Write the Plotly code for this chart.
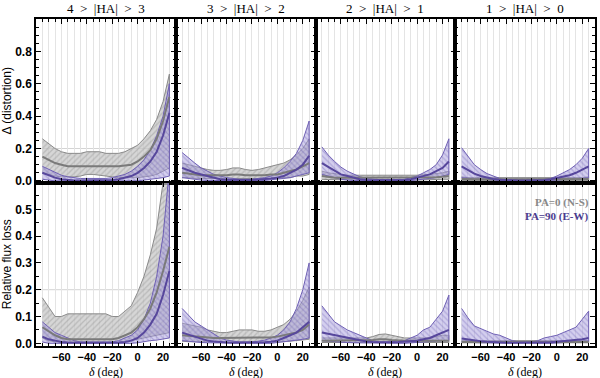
import plotly.graph_objects as go
from plotly.subplots import make_subplots

# declination bin centres (deg)
DEC = [-75, -70, -65, -60, -55, -50, -45, -40, -35, -30, -25,
       -20, -15, -10, -5, 0, 5, 10, 15, 20, 25]

HA_TITLES = ["4  >  |HA|  >  3", "3  >  |HA|  >  2", "2  >  |HA|  >  1", "1  >  |HA|  >  0"]
X_TICKS = [-60, -40, -20, 0, 20]
DIST_TICKS = [0.0, 0.2, 0.4, 0.6, 0.8]
FLUX_TICKS = [0.0, 0.1, 0.2, 0.3, 0.4, 0.5]

# ---- distortion, PA=0 (N-S) : lower / median / upper
DIST_NS_LO = [
    [.05, .04, .03, .025, .025, .025, .03, .04, .04, .035, .03, .025, .02, .02, .02, .02, .025, .03, .04, .06, .08],
    [.02, .02, .015, .015, .015, .015, .015, .015, .015, .015, .015, .015, .015, .015, .015, .015, .02, .02, .03, .03, .04],
    [.01, .008, .005, .005, .005, .005, .005, .005, .005, .005, .005, .005, .005, .005, .005, .005, .005, .006, .008, .01, .01],
    [.003, .003, .003, .003, .003, .003, .003, .003, .003, .003, .003, .003, .003, .003, .003, .003, .003, .003, .003, .003, .003],
]
DIST_NS_MID = [
    [.15, .13, .11, .10, .09, .09, .09, .09, .09, .09, .09, .09, .09, .095, .10, .12, .15, .19, .26, .37, .52],
    [.05, .045, .04, .035, .035, .035, .035, .035, .04, .04, .035, .035, .035, .035, .04, .04, .05, .06, .07, .09, .11],
    [.03, .025, .02, .02, .02, .02, .02, .02, .02, .02, .02, .02, .02, .02, .02, .02, .02, .02, .022, .025, .03],
    [.012, .01, .01, .01, .01, .01, .01, .01, .01, .01, .01, .01, .01, .01, .01, .01, .01, .01, .01, .01, .012],
]
DIST_NS_HI = [
    [.26, .23, .20, .18, .17, .17, .17, .18, .18, .18, .17, .17, .17, .18, .20, .22, .26, .31, .38, .49, .66],
    [.11, .10, .09, .08, .07, .065, .065, .07, .08, .08, .07, .065, .07, .08, .09, .10, .11, .13, .16, .20, .26],
    [.06, .05, .045, .04, .035, .035, .035, .035, .035, .035, .035, .035, .035, .035, .035, .035, .04, .04, .045, .05, .06],
    [.025, .02, .02, .02, .02, .02, .02, .02, .02, .02, .02, .02, .02, .02, .02, .02, .02, .02, .02, .02, .025],
]
# ---- distortion, PA=90 (E-W)
DIST_EW_LO = [
    [.01, .005, 0, 0, 0, 0, 0, 0, 0, 0, 0, 0, 0, 0, 0, 0, .005, .01, .015, .02, .03],
    [.02, .015, .01, .005, .003, 0, 0, 0, 0, 0, 0, 0, 0, .003, .005, .01, .015, .02, .03, .04, .05],
    [.04, .03, .02, .01, .005, .002, 0, 0, 0, 0, 0, 0, 0, 0, .002, .005, .01, .015, .02, .03, .04],
    [.02, .015, .012, .01, .008, .005, .003, .002, .001, .001, .001, .001, .001, .002, .003, .005, .008, .01, .012, .015, .02],
]
DIST_EW_MID = [
    [.05, .035, .02, .01, .005, .003, .003, .003, .003, .003, .003, .005, .01, .02, .03, .05, .08, .12, .18, .28, .42],
    [.08, .065, .05, .04, .03, .02, .01, .007, .005, .005, .005, .005, .007, .01, .015, .02, .03, .05, .07, .10, .155],
    [.11, .085, .06, .04, .03, .02, .01, .005, .004, .003, .003, .003, .004, .006, .01, .02, .03, .04, .06, .08, .12],
    [.09, .065, .045, .03, .02, .012, .007, .004, .003, .002, .002, .002, .003, .005, .01, .017, .025, .035, .05, .07, .09],
]
DIST_EW_HI = [
    [.09, .07, .05, .035, .025, .02, .015, .015, .015, .015, .015, .02, .03, .04, .06, .09, .13, .19, .28, .40, .60],
    [.175, .14, .11, .08, .06, .04, .03, .02, .015, .01, .01, .01, .015, .02, .03, .05, .08, .12, .17, .25, .37],
    [.21, .16, .12, .085, .06, .04, .025, .015, .01, .008, .008, .008, .008, .01, .02, .03, .05, .07, .10, .16, .26],
    [.205, .15, .10, .07, .045, .03, .015, .008, .004, .003, .003, .003, .004, .008, .015, .03, .05, .07, .10, .14, .20],
]

# ---- relative flux loss, PA=0 (N-S)
FLUX_NS_LO = [
    [.02, .01, .005, .003, .003, .003, .003, .003, .003, .003, .003, .003, .003, .005, .01, .015, .02, .025, .03, .035, .04],
    [.008, .006, .005, .005, .005, .005, .005, .005, .005, .005, .005, .005, .005, .005, .005, .005, .006, .008, .01, .012, .015],
    [.003, .003, .003, .003, .003, .003, .003, .003, .003, .003, .003, .003, .003, .003, .003, .003, .003, .003, .003, .003, .003],
    [.002, .002, .002, .002, .002, .002, .002, .002, .002, .002, .002, .002, .002, .002, .002, .002, .002, .002, .002, .002, .002],
]
FLUX_NS_MID = [
    [.06, .045, .03, .02, .015, .015, .015, .015, .015, .015, .015, .015, .02, .03, .04, .06, .09, .13, .19, .27, .36],
    [.03, .028, .025, .022, .02, .02, .02, .02, .02, .02, .02, .02, .02, .02, .022, .025, .03, .035, .04, .05, .07],
    [.01, .01, .01, .01, .01, .01, .01, .01, .012, .015, .015, .012, .01, .01, .01, .01, .01, .01, .01, .01, .01],
    [.005, .005, .005, .005, .005, .005, .005, .005, .005, .005, .005, .005, .005, .005, .005, .005, .005, .005, .005, .005, .005],
]
FLUX_NS_HI = [
    [.17, .135, .10, .10, .11, .11, .11, .11, .11, .11, .11, .10, .10, .12, .14, .19, .25, .33, .43, .60, .85],
    [.075, .07, .065, .06, .05, .045, .04, .04, .045, .05, .05, .05, .045, .045, .05, .06, .07, .09, .12, .16, .21],
    [.02, .02, .02, .02, .02, .02, .02, .02, .025, .033, .035, .03, .025, .02, .02, .02, .02, .02, .025, .03, .03],
    [.01, .01, .01, .01, .01, .01, .01, .01, .01, .01, .01, .01, .01, .01, .01, .01, .01, .01, .01, .01, .01],
]
# ---- relative flux loss, PA=90 (E-W)
FLUX_EW_LO = [
    [.005, 0, 0, 0, 0, 0, 0, 0, 0, 0, 0, 0, 0, 0, 0, .002, .005, .01, .012, .015, .02],
    [.01, .008, .005, .003, .002, 0, 0, 0, 0, 0, 0, 0, 0, 0, 0, .002, .005, .008, .012, .015, .02],
    [.01, .008, .006, .004, .003, .002, 0, 0, 0, 0, 0, 0, 0, 0, 0, .002, .004, .006, .008, .01, .01],
    [.005, .004, .003, .002, .001, 0, 0, 0, 0, 0, 0, 0, 0, 0, 0, 0, .002, .004, .006, .008, .008],
]
FLUX_EW_MID = [
    [.025, .015, .01, .005, .003, .002, .002, .002, .002, .002, .002, .002, .003, .005, .01, .02, .04, .07, .11, .18, .27],
    [.04, .032, .025, .018, .01, .007, .004, .003, .002, .002, .002, .002, .003, .004, .006, .01, .02, .03, .04, .06, .08],
    [.04, .035, .03, .025, .02, .015, .01, .007, .005, .004, .004, .004, .005, .006, .008, .01, .015, .02, .03, .04, .05],
    [.018, .014, .01, .008, .006, .004, .003, .002, .002, .002, .002, .002, .002, .003, .004, .006, .008, .01, .012, .015, .02],
]
FLUX_EW_HI = [
    [.08, .06, .04, .03, .02, .01, .005, .005, .005, .005, .005, .005, .01, .02, .03, .05, .09, .15, .25, .40, .65],
    [.13, .105, .08, .065, .05, .035, .02, .012, .008, .005, .005, .005, .008, .012, .02, .03, .05, .08, .13, .20, .30],
    [.14, .11, .08, .065, .05, .04, .03, .02, .01, .005, .005, .005, .01, .01, .02, .03, .05, .06, .09, .12, .18],
    [.13, .095, .065, .055, .045, .035, .03, .02, .01, .005, .005, .005, .01, .02, .025, .03, .04, .05, .06, .09, .12],
]

GRAY_LINE = "#7a7a7a"
GRAY_EDGE = "#8a8a8a"
PURP_LINE = "#57479c"
PURP_EDGE = "#6f60b4"


def add_band(fig, row, col, lo, hi, edge, bg, fg, shape):
    fig.add_trace(
        go.Scatter(
            x=DEC + DEC[::-1],
            y=hi + lo[::-1],
            mode="lines",
            fill="toself",
            fillcolor=bg,
            fillpattern={"shape": shape, "fgcolor": fg, "bgcolor": bg, "size": 4, "solidity": 0.3},
            line={"color": edge, "width": 1},
            showlegend=False,
            hoverinfo="skip",
        ),
        row=row,
        col=col,
    )


def add_line(fig, row, col, y, color):
    fig.add_trace(
        go.Scatter(x=DEC, y=y, mode="lines", line={"color": color, "width": 2},
                   showlegend=False, hoverinfo="skip"),
        row=row,
        col=col,
    )


fig = make_subplots(rows=2, cols=4, horizontal_spacing=0, vertical_spacing=0)

rows = [
    (1, DIST_NS_LO, DIST_NS_MID, DIST_NS_HI, DIST_EW_LO, DIST_EW_MID, DIST_EW_HI),
    (2, FLUX_NS_LO, FLUX_NS_MID, FLUX_NS_HI, FLUX_EW_LO, FLUX_EW_MID, FLUX_EW_HI),
]
for r, ns_lo, ns_mid, ns_hi, ew_lo, ew_mid, ew_hi in rows:
    for c in range(4):
        add_band(fig, r, c + 1, ns_lo[c], ns_hi[c], GRAY_EDGE,
                 "rgba(200,200,200,0.75)", "rgba(115,115,115,0.6)", "/")
        add_band(fig, r, c + 1, ew_lo[c], ew_hi[c], PURP_EDGE,
                 "rgba(170,160,222,0.5)", "rgba(90,75,170,0.6)", "\\")
        add_line(fig, r, c + 1, ns_mid[c], GRAY_LINE)
        add_line(fig, r, c + 1, ew_mid[c], PURP_LINE)
        # faint reference line at 0.2
        n = (r - 1) * 4 + c + 1
        fig.add_shape(type="line", x0=0, x1=1,
                      xref="x domain" if n == 1 else f"x{n} domain",
                      y0=0.2, y1=0.2, yref="y" if n == 1 else f"y{n}",
                      line={"color": "#d4d4d4", "width": 1}, layer="below")

tick_font = {"family": "Liberation Sans", "size": 12, "color": "black", "weight": "bold"}
x_tick_font = {"family": "Liberation Sans", "size": 11, "color": "black", "weight": "bold"}

fig.update_xaxes(
    range=[-80, 30], tickmode="array", tickvals=X_TICKS, ticks="inside", ticklen=5, tickwidth=1,
    tickcolor="black", showline=True, linecolor="black", linewidth=1.5, mirror="ticks",
    showgrid=True, gridcolor="#e4e4e4", gridwidth=1, zeroline=False,
    minor={"tick0": 0, "dtick": 5, "ticks": "inside", "ticklen": 3, "tickcolor": "black",
           "showgrid": True, "gridcolor": "#e4e4e4", "gridwidth": 1},
    tickfont=x_tick_font, ticklabelstandoff=0, showticklabels=False,
)
fig.update_yaxes(
    ticks="inside", ticklen=5, tickwidth=1, tickcolor="black", showline=True,
    linecolor="black", linewidth=1.5, mirror="ticks", showgrid=False, zeroline=False,
    tickformat=".1f", tickfont=tick_font, showticklabels=False, tickmode="array",
)
fig.update_yaxes(range=[-0.01, 1.0], tickvals=DIST_TICKS,
                 minor={"tick0": 0, "dtick": 0.05, "ticks": "inside", "ticklen": 3, "tickcolor": "black"}, row=1)
fig.update_yaxes(range=[-0.01, 0.6], tickvals=FLUX_TICKS,
                 minor={"tick0": 0, "dtick": 0.05, "ticks": "inside", "ticklen": 3, "tickcolor": "black"}, row=2)
fig.update_xaxes(showticklabels=True, row=2)
fig.update_yaxes(showticklabels=True, col=1)

axis_title_font = {"family": "Liberation Sans", "size": 12, "color": "black"}
fig.update_yaxes(title={"text": "Δ (distortion)", "font": axis_title_font, "standoff": 2}, row=1, col=1)
fig.update_yaxes(title={"text": "Relative flux loss", "font": axis_title_font, "standoff": 2}, row=2, col=1)

# column titles above, delta labels below each bottom panel
for c, label in enumerate(HA_TITLES):
    fig.add_annotation(
        text=label, x=(c + 0.5) / 4, y=1, xref="paper", yref="paper",
        xanchor="center", yanchor="bottom", yshift=1, showarrow=False,
        font={"family": "Liberation Serif", "size": 13, "color": "black"},
    )
    fig.add_annotation(
        text="<i>δ</i> (deg)", x=(c + 0.5) / 4, y=0, xref="paper", yref="paper",
        xanchor="center", yanchor="top", yshift=-17, showarrow=False,
        font={"family": "Liberation Serif", "size": 12, "color": "black"},
    )

fig.add_annotation(text="PA=0 (N-S)", x=0.97, y=0.525, xref="x8 domain", yref="y8",
                   xanchor="right", yanchor="middle", showarrow=False,
                   font={"family": "Liberation Serif", "size": 11, "color": "#888888", "weight": "bold"})
fig.add_annotation(text="PA=90 (E-W)", x=0.97, y=0.475, xref="x8 domain", yref="y8",
                   xanchor="right", yanchor="middle", showarrow=False,
                   font={"family": "Liberation Serif", "size": 11, "color": "#4b3b8e", "weight": "bold"})

fig.update_layout(
    width=600, height=378,
    margin={"l": 36, "r": 3, "t": 19, "b": 32},
    paper_bgcolor="white", plot_bgcolor="white",
    showlegend=False,
)

# drop the default page margin so the 600x378 figure fills the window exactly
fig.write_html("out.html", config={"displayModeBar": False},
               post_script="document.body.style.margin='0';")
